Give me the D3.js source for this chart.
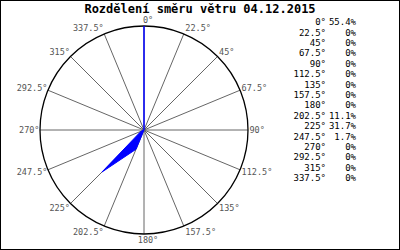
<!DOCTYPE html>
<html><head><meta charset="utf-8">
<script src="https://cdn.jsdelivr.net/npm/d3@7"></script>
<style>html,body{margin:0;padding:0;background:#fff}svg{display:block}</style>
</head><body>
<svg id="chart" width="400" height="250"></svg>
<script>
const title = "Rozdělení směru větru 04.12.2015";
const directions = [0, 22.5, 45, 67.5, 90, 112.5, 135, 157.5, 180, 202.5, 225, 247.5, 270, 292.5, 315, 337.5];
const dirLabels = ["0°","22.5°","45°","67.5°","90°","112.5°","135°","157.5°","180°","202.5°","225°","247.5°","270°","292.5°","315°","337.5°"];
const percents = [55.4, 0, 0, 0, 0, 0, 0, 0, 0, 11.1, 31.7, 1.7, 0, 0, 0, 0];
const percentLabels = ["55.4%","0%","0%","0%","0%","0%","0%","0%","0%","11.1%","31.7%","1.7%","0%","0%","0%","0%"];

const svg = d3.select("#chart");
const cx = 144, cy = 130, R = 104;
const mono = "'DejaVu Sans Mono', 'Liberation Mono', monospace";

svg.append("rect").attr("x",0.5).attr("y",0.5).attr("width",399).attr("height",249)
  .attr("fill","#fff").attr("stroke","#000");

svg.append("text").attr("x",200).attr("y",13).attr("text-anchor","middle")
  .attr("font-family",mono).attr("font-weight","bold").attr("font-size","12px")
  .attr("fill","#000").text(title);

const ang = d3.scaleLinear().domain([0,360]).range([0, 2*Math.PI]);
const r = d3.scaleLinear().domain([0, d3.max(percents)]).range([0, R]);

const g = svg.append("g").attr("transform",`translate(${cx},${cy})`);

// spokes
g.selectAll("line.spoke").data(directions).join("line")
  .attr("class","spoke")
  .attr("x1",0).attr("y1",0)
  .attr("x2",d=>R*Math.sin(ang(d))).attr("y2",d=>-R*Math.cos(ang(d)))
  .attr("stroke","#666").attr("stroke-width",1);

// circle
g.append("circle").attr("r",R).attr("fill","none").attr("stroke","#000").attr("stroke-width",1.3);

// data polygon
const radial = d3.lineRadial()
  .angle((d,i)=>ang(directions[i]))
  .radius(d=>r(d))
  .curve(d3.curveLinearClosed);
g.append("path").attr("d",radial(percents))
  .attr("fill","#0000ff").attr("stroke","#0000ff").attr("stroke-width",1);

// direction labels
g.selectAll("text.lab").data(directions).join("text")
  .attr("class","lab")
  .attr("x",d=>{
    const s = Math.sin(ang(d));
    const x = R*s;
    return Math.abs(s)<1e-6 ? x+4 : x + (s>0 ? 1.5 : -0.5);
  })
  .attr("y",d=>-R*Math.cos(ang(d)) - 6*Math.cos(ang(d)))
  .attr("dy","0.35em")
  .attr("text-anchor",d=>{
    const s = Math.sin(ang(d));
    return Math.abs(s)<1e-6 ? "middle" : (s>0 ? "start" : "end");
  })
  .attr("font-family",mono).attr("font-size","8.5px").attr("fill","#555")
  .text((d,i)=>dirLabels[i]);

// legend
const ly = d3.scaleLinear().domain([0,15]).range([22,178]);
const leg = svg.append("g").attr("font-family",mono).attr("font-size","9px").attr("fill","#000");
leg.selectAll("text.ld").data(dirLabels).join("text").attr("class","ld")
  .attr("x",326).attr("y",(d,i)=>ly(i)).attr("dy","0.35em").attr("text-anchor","end").text(d=>d);
leg.selectAll("text.lp").data(percentLabels).join("text").attr("class","lp")
  .attr("x",356).attr("y",(d,i)=>ly(i)).attr("dy","0.35em").attr("text-anchor","end").text(d=>d);
</script>
</body></html>
